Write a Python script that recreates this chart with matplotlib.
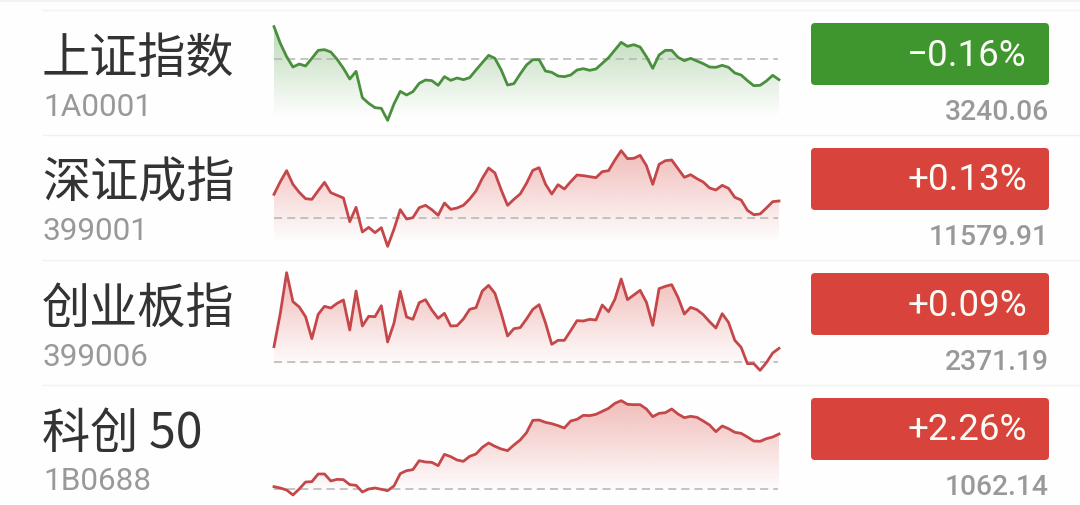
"""
Four index rows: name, code, intraday sparkline, change badge, last price
"""

import numpy as np
import matplotlib
matplotlib.use("Agg")
import matplotlib.pyplot as plt
from matplotlib.colors import to_rgb
from matplotlib.patches import FancyBboxPatch

names = ["上证指数", "深证成指", "创业板指", "科创 50"]
codes = ["1A0001", "399001", "399006", "1B0688"]
changes = ["\u22120.16%", "+0.13%", "+0.09%", "+2.26%"]
prices = ["3240.06", "11579.91", "2371.19", "1062.14"]

# relative to previous close (the dashed line), in arbitrary units
sh_values = [96, 46, 6, -25, -16, -22, 1, 25, 27, 20, -2, -29, -61, -38, -117, -134, -147, -149, -185, -136,
             -98, -109, -99, -74, -64, -66, -80, -54, -65, -58, -63, -57, -34, -12, 10, 1, -34, -79, -75,
             -46, -19, -3, -3, -37, -41, -52, -54, -49, -34, -30, -35, -31, -14, 3, 26, 49, 37, 42, 35, 6,
             -29, 11, 25, 25, 4, -6, 1, -7, -15, -25, -26, -20, -26, -43, -49, -66, -81, -80, -67, -50, -63]
sz_values = [71, 109, 142, 101, 77, 58, 56, 82, 107, 76, 68, 60, -11, 32, -42, -28, -44, -29, -85, -34,
             25, -3, 1, 31, 38, 25, 8, 45, 26, 30, 38, 57, 81, 119, 150, 135, 84, 38, 56,
             72, 104, 143, 151, 102, 72, 100, 87, 109, 129, 127, 124, 121, 139, 142, 174, 202, 178, 179, 188, 157,
             101, 161, 172, 174, 148, 122, 130, 118, 108, 90, 84, 98, 89, 62, 54, 23, 10, 12, 30, 49, 51]
cy_values = [45, 145, 267, 180, 164, 135, 69, 142, 166, 161, 175, 185, 95, 212, 107, 136, 135, 168, 59, 115,
             211, 134, 127, 177, 186, 155, 130, 145, 107, 108, 128, 157, 162, 212, 229, 205, 145, 77, 99,
             102, 128, 157, 171, 117, 52, 64, 64, 93, 123, 122, 127, 125, 170, 150, 187, 248, 186, 200, 214, 178,
             109, 219, 226, 231, 193, 143, 163, 156, 141, 120, 101, 144, 118, 64, 43, -6, -6, -26, -3, 26, 40]
kc_values = [8, 4, -2, -17, 1, 22, 23, 46, 46, 25, 30, 29, 14, 12, -8, 1, 4, 0, -4, 10,
             47, 56, 59, 86, 82, 81, 71, 105, 98, 88, 84, 99, 106, 126, 139, 129, 121, 116, 133,
             148, 170, 207, 208, 201, 197, 191, 184, 205, 210, 222, 221, 225, 234, 243, 258, 266, 255, 254, 254, 241,
             218, 228, 230, 241, 226, 215, 219, 216, 205, 193, 173, 190, 182, 171, 168, 157, 145, 144, 152, 157, 166]
series = [sh_values, sz_values, cy_values, kc_values]
baseline_rows = [146, 249, 305, 313]  # height of the dashed line inside each 375-unit row

GREEN, RED = "#3f962e", "#d8433b"
LINE_GREEN, LINE_RED = "#4a8f3e", "#c4474a"
W, H = 1080, 505
ROW_TOP, ROW_H = 10, 125
CJK = ["Noto Sans CJK SC", "DejaVu Sans"]

fig = plt.figure(figsize=(W / 100, H / 100), dpi=100, facecolor="#fefefe")

# page layer in pixels
page = fig.add_axes([0, 0, 1, 1])
page.set_xlim(0, W)
page.set_ylim(H, 0)
page.axis("off")
page.plot([0, W], [0.5, 0.5], color="#f0f0f0", lw=1.2)

for i in range(4):
    top = ROW_TOP + ROW_H * i
    is_down = changes[i].startswith("\u2212")
    page.plot([43, W], [top, top], color="#f1f1f1", lw=1)

    page.text(42, top + 49, names[i], family=CJK, fontsize=34.7, color="#333333", ha="left", va="center")
    page.text(43, top + 97, codes[i], family="Roboto", fontsize=22.7, color="#999999", ha="left", va="center")

    page.add_patch(FancyBboxPatch((814, top + 16), 232, 56, boxstyle="round,pad=3,rounding_size=4",
                                  fc=GREEN if is_down else RED, ec="none"))
    page.text(1027, top + 45.5, changes[i], family="Roboto", fontsize=26.5, color="#fbfbf5", ha="right", va="center")
    page.text(1048.5, top + 102.5, prices[i], family="Roboto", fontsize=20.3, color="#999999", ha="right", va="center",
              fontweight="medium")

    # sparkline: axes spans the row, 3 units to one pixel
    ax = fig.add_axes([274 / W, 1 - (top + ROW_H) / H, 505 / W, ROW_H / H])
    ax.axis("off")
    x = np.arange(len(series[i]))
    y = np.array(series[i])
    base = baseline_rows[i]
    ax.set_xlim(0, len(x) - 1)
    ax.set_ylim(base - 375, base)

    line_color = LINE_GREEN if is_down else LINE_RED
    fade_bottom = base - 322
    fade_top = base - 40
    rgba = np.zeros((256, 2, 4))
    rgba[..., :3] = to_rgb(GREEN if is_down else RED)
    rgba[..., 3] = np.linspace(0.36, 0.0, 256)[:, None]
    img = ax.imshow(rgba, extent=[0, len(x) - 1, fade_bottom, fade_top], origin="upper", aspect="auto", zorder=1)
    poly = ax.fill_between(x, y, fade_bottom, color="none", lw=0)
    img.set_clip_path(poly.get_paths()[0], transform=ax.transData)
    ax.set_xlim(0, len(x) - 1)
    ax.set_ylim(base - 375, base)

    ax.plot([0, len(x) - 1.2], [0, 0], color="#b4b4b4", lw=1.1, dashes=(5.3, 3.3), zorder=2)
    ax.plot(x, y, color=line_color, lw=2.0, solid_joinstyle="round", clip_on=False, zorder=3)

plt.savefig("out.png", dpi=100, facecolor=fig.get_facecolor())
plt.close()
